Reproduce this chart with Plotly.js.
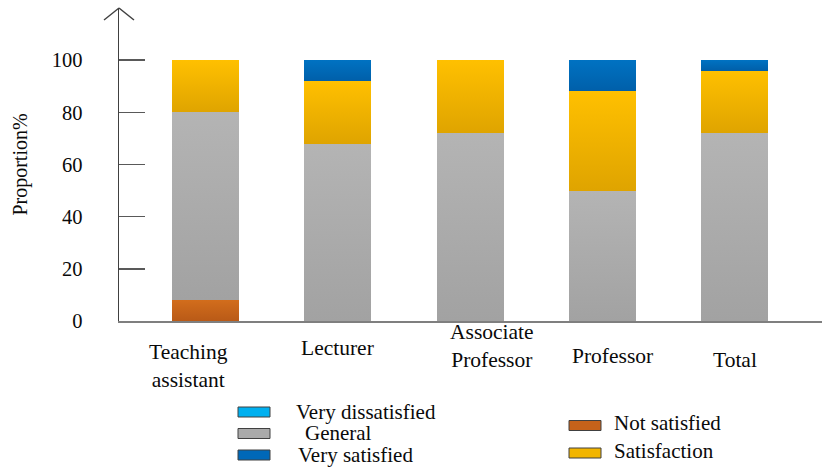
<!DOCTYPE html>
<html><head><meta charset="utf-8">
<script src="https://cdn.plot.ly/plotly-3.0.1.min.js"></script>
<style>html,body{margin:0;padding:0;background:#fff;} #chart{width:826px;height:467px;}</style>
</head><body><div id="chart"></div>
<script>
// ---- data ----
const categories = ['Teaching assistant', 'Lecturer', 'Associate Professor', 'Professor', 'Total'];
const tickLabels = ['Teaching<br>assistant', 'Lecturer', 'Associate<br>Professor', 'Professor', 'Total'];
const notSatisfied = [8, 0, 0, 0, 0];
const general = [72, 68, 72, 50, 72];
const satisfaction = [20, 24, 28, 38, 24];
const verySatisfied = [0, 8, 0, 12, 4];
const veryDissatisfied = [0, 0, 0, 0, 0];
const yTicks = [0, 20, 40, 60, 80, 100];

// ---- styles ----
const FONT = '"Liberation Serif", serif';
const TXT = '#0a0a0a';
const series = [
  {name: 'Not satisfied', y: notSatisfied, color: '#C6621A', grad: ['#D26D1C', '#B95A17']},
  {name: 'General', y: general, color: '#AAAAAA', grad: ['#B4B4B4', '#A2A2A2']},
  {name: 'Satisfaction', y: satisfaction, color: '#F2B500', grad: ['#FFC000', '#DFA400']},
  {name: 'Very satisfied', y: verySatisfied, color: '#0068B8', grad: ['#0072C2', '#005FA9']},
  {name: 'Very dissatisfied', y: veryDissatisfied, color: '#00B0F0', grad: ['#00B0F0', '#00A0DC']}
];

const W = 826, H = 467;
const M = {l: 119, r: 4, t: 8, b: 146};
const PW = W - M.l - M.r, PH = H - M.t - M.b;
const px = x => (x - M.l) / PW;          // pixel x -> paper
const py = y => (H - M.b - y) / PH;      // pixel y -> paper

const traces = series.map(s => ({
  type: 'bar', name: s.name, x: categories, y: s.y,
  marker: {color: s.color, line: {width: 0}},
  hoverinfo: 'skip', showlegend: false
}));

// category label placement (pixel offsets / pixel y)
const labelShift = [-17, 0, 22, 10, 0];
const labelY = [366, 348, 345.5, 356, 360];

const annotations = categories.map((c, i) => ({
  x: c, xref: 'x', xshift: labelShift[i],
  y: py(labelY[i]), yref: 'paper', yanchor: 'middle', xanchor: 'center',
  text: tickLabels[i], showarrow: false, align: 'center',
  font: {family: FONT, size: 21.5, color: TXT}
}));

// custom legend (matches the reference layout)
const legendItems = [
  {s: 4, sx: 238, sy: 412, tx: 294, ty: 412},
  {s: 1, sx: 238, sy: 433.5, tx: 303, ty: 433},
  {s: 3, sx: 238, sy: 455, tx: 296, ty: 455},
  {s: 0, sx: 569, sy: 425.5, tx: 612, ty: 423},
  {s: 2, sx: 569, sy: 453, tx: 612, ty: 451}
];
const shapes = [
  // arrow head on y axis
  {type: 'line', xref: 'paper', yref: 'paper', x0: px(104), y0: py(20), x1: px(119), y1: py(8), line: {color: '#404040', width: 1.5}},
  {type: 'line', xref: 'paper', yref: 'paper', x0: px(134), y0: py(20), x1: px(119), y1: py(8), line: {color: '#404040', width: 1.5}}
];
legendItems.forEach(it => {
  shapes.push({type: 'rect', xref: 'paper', yref: 'paper',
    x0: px(it.sx), x1: px(it.sx + 32), y0: py(it.sy - 5), y1: py(it.sy + 5),
    fillcolor: series[it.s].color, line: {color: '#404040', width: 1}});
  annotations.push({x: px(it.tx), xref: 'paper', xanchor: 'left', y: py(it.ty), yref: 'paper', yanchor: 'middle',
    text: series[it.s].name, showarrow: false, font: {family: FONT, size: 21, color: TXT}});
});

const layout = {
  width: W, height: H, margin: M,
  paper_bgcolor: '#fff', plot_bgcolor: '#fff',
  barmode: 'stack', bargap: 0.493,
  showlegend: false,
  xaxis: {
    type: 'category', range: [-0.654, 4.66], showline: true, linecolor: '#7f7f7f', linewidth: 2,
    ticks: '', showticklabels: false, showgrid: false, zeroline: false, fixedrange: true
  },
  yaxis: {
    range: [0, 120], tickvals: yTicks, ticks: 'inside', ticklen: 26, tickwidth: 1.5, tickcolor: '#595959',
    showline: true, linecolor: '#404040', linewidth: 1.5, showgrid: false, zeroline: false,
    tickfont: {family: FONT, size: 20.5, color: TXT}, ticklabelstandoff: 31,
    title: {text: 'Proportion%', font: {family: FONT, size: 20, color: TXT}, standoff: 18},
    fixedrange: true
  },
  shapes: shapes,
  annotations: annotations
};

Plotly.newPlot('chart', traces, layout, {displayModeBar: false, staticPlot: true}).then(gd => {
  const ns = 'http://www.w3.org/2000/svg';
  const svg = gd.querySelector('svg.main-svg');
  const defs = document.createElementNS(ns, 'defs');
  svg.insertBefore(defs, svg.firstChild);
  const trs = gd.querySelectorAll('.barlayer .trace');
  trs.forEach((tr, i) => {
    const g = document.createElementNS(ns, 'linearGradient');
    g.setAttribute('id', 'bargrad' + i);
    g.setAttribute('x1', '0'); g.setAttribute('y1', '0'); g.setAttribute('x2', '0'); g.setAttribute('y2', '1');
    series[i].grad.forEach((c, k) => {
      const st = document.createElementNS(ns, 'stop');
      st.setAttribute('offset', k === 0 ? '0' : '1');
      st.setAttribute('stop-color', c);
      g.appendChild(st);
    });
    defs.appendChild(g);
    tr.querySelectorAll('path').forEach(p => { p.style.fill = 'url(#bargrad' + i + ')'; });
  });
});
</script>
</body></html>
